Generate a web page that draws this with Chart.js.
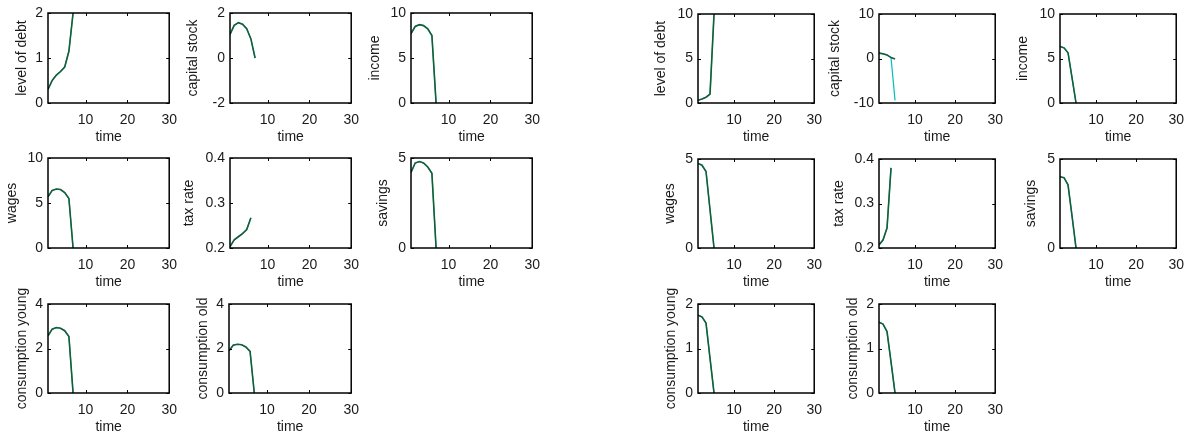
<!DOCTYPE html>
<html>
<head>
<meta charset="utf-8">
<script src="https://cdn.jsdelivr.net/npm/chart.js@4.4.0/dist/chart.umd.min.js"></script>
<style>
  html, body { margin: 0; padding: 0; background: #fff; }
  #fig { position: relative; width: 1185px; height: 435px; overflow: hidden; background: #fff; }
</style>
</head>
<body>
<div id="fig"></div>
<script>
// time axes
const timeLeft = [1, 2, 3, 4, 5, 6, 7];
const timeLeftTax = [1, 2, 3, 4, 5, 6];
const timeRight = [1, 2, 3, 4, 5];
const timeRightTax = [1, 2, 3, 4];
const xTicks = [10, 20, 30];

// left figure
const debtL = [0.30, 0.50, 0.62, 0.70, 0.80, 1.15, 2.00];
const capitalL = [1.05, 1.45, 1.57, 1.50, 1.30, 0.85, 0.00];
const incomeL = [7.7, 8.5, 8.7, 8.6, 8.25, 7.5, 0.0];
const wagesL = [5.7, 6.4, 6.55, 6.5, 6.15, 5.5, 0.0];
const taxL = [0.203, 0.218, 0.225, 0.232, 0.241, 0.267];
const savingsL = [4.2, 4.72, 4.8, 4.72, 4.5, 4.15, 0.0];
const consYoungL = [2.57, 2.87, 2.94, 2.91, 2.80, 2.54, 0.0];
const consOldL = [1.90, 2.15, 2.19, 2.17, 2.07, 1.87, 0.0];

// right figure
const debtR = [0.30, 0.45, 0.65, 1.00, 10.0];
const capitalR = [1.2, 1.05, 0.8, 0.2, -0.1];
const capitalRAlt = [1.2, 1.05, 0.8, 0.2, -9.4];
const incomeR = [6.35, 6.2, 5.65, 2.85, 0.0];
const wagesR = [4.75, 4.65, 4.3, 2.15, 0.0];
const taxR = [0.207, 0.218, 0.245, 0.38];
const savingsR = [4.0, 3.95, 3.55, 1.8, 0.0];
const consYoungR = [1.75, 1.71, 1.57, 0.78, 0.0];
const consOldR = [1.59, 1.55, 1.38, 0.70, 0.0];

// y tick labels
const ticks0to2 = [0, 1, 2];
const ticksM2to2 = [-2, 0, 2];
const ticks0to10 = [0, 5, 10];
const ticksTax = [0.2, 0.3, 0.4];
const ticks0to5 = [0, 5];
const ticks0to4 = [0, 2, 4];
const ticksM10to10 = [-10, 0, 10];

const GREEN = '#175e38';
const CYAN = '#00bfbf';
const TEXT = '#1a1a1a';
const FONT = { family: '"Liberation Sans", Arial, sans-serif', size: 14 };

// box = [left, top, right, bottom] of the axes, gap = ylabel distance from axis
const plots = [
  { label: 'level of debt', t: timeLeft, y: debtL, y2: debtL, yt: ticks0to2, box: [48, 13, 170, 103], gap: 26 },
  { label: 'capital stock', t: timeLeft, y: capitalL, y2: capitalL, yt: ticksM2to2, box: [230, 13, 352, 103], gap: 37 },
  { label: 'income', t: timeLeft, y: incomeL, y2: incomeL, yt: ticks0to10, box: [411, 13, 533, 103], gap: 36 },
  { label: 'wages', t: timeLeft, y: wagesL, y2: wagesL, yt: ticks0to10, box: [48, 158, 170, 248], gap: 36 },
  { label: 'tax rate', t: timeLeftTax, y: taxL, y2: taxL, yt: ticksTax, box: [230, 158, 352, 248], gap: 41 },
  { label: 'savings', t: timeLeft, y: savingsL, y2: savingsL, yt: ticks0to5, box: [411, 158, 533, 248], gap: 28 },
  { label: 'consumption young', t: timeLeft, y: consYoungL, y2: consYoungL, yt: ticks0to4, box: [48, 304, 170, 393], gap: 26 },
  { label: 'consumption old', t: timeLeft, y: consOldL, y2: consOldL, yt: ticks0to4, box: [229, 304, 352, 393], gap: 26 },

  { label: 'level of debt', t: timeRight, y: debtR, y2: debtR, yt: ticks0to10, box: [698, 14, 815, 103], gap: 37 },
  { label: 'capital stock', t: timeRight, y: capitalR, y2: capitalRAlt, yt: ticksM10to10, box: [879, 14, 996, 103], gap: 44 },
  { label: 'income', t: timeRight, y: incomeR, y2: incomeR, yt: ticks0to10, box: [1060, 14, 1177, 103], gap: 37 },
  { label: 'wages', t: timeRight, y: wagesR, y2: wagesR, yt: ticks0to5, box: [698, 159, 815, 248], gap: 28 },
  { label: 'tax rate', t: timeRightTax, y: taxR, y2: taxR, yt: ticksTax, box: [879, 159, 996, 248], gap: 40 },
  { label: 'savings', t: timeRight, y: savingsR, y2: savingsR, yt: ticks0to5, box: [1060, 159, 1177, 248], gap: 29 },
  { label: 'consumption young', t: timeRight, y: consYoungR, y2: consYoungR, yt: ticks0to2, box: [698, 304, 815, 393], gap: 27 },
  { label: 'consumption old', t: timeRight, y: consOldR, y2: consOldR, yt: ticks0to2, box: [879, 304, 996, 393], gap: 26 }
];

// MATLAB-like box with inward tick marks
const boxPlugin = {
  id: 'axesBox',
  afterDatasetsDraw(chart) {
    const { ctx, chartArea: a } = chart;
    const x = chart.scales.x, y = chart.scales.y;
    ctx.save();
    ctx.strokeStyle = '#000';
    ctx.lineWidth = 1;
    ctx.beginPath();
    x.ticks.forEach(t => {
      const px = Math.round(x.getPixelForValue(t.value)) + 0.5;
      ctx.moveTo(px, a.bottom); ctx.lineTo(px, a.bottom - 3);
      ctx.moveTo(px, a.top); ctx.lineTo(px, a.top + 3);
    });
    y.ticks.forEach(t => {
      const py = Math.round(y.getPixelForValue(t.value)) + 0.5;
      ctx.moveTo(a.left, py); ctx.lineTo(a.left + 3, py);
      ctx.moveTo(a.right, py); ctx.lineTo(a.right - 3, py);
    });
    ctx.stroke();
    ctx.lineWidth = 1.5;
    ctx.strokeRect(a.left, a.top, a.right - a.left, a.bottom - a.top);
    ctx.restore();
  }
};

const fig = document.getElementById('fig');
const PAD_L = 2, PAD_T = 26, PAD_R = 16, X_H = 46;

plots.forEach(p => {
  const [bl, bt, br, bb] = p.box;
  const yW = Math.round(p.gap + 8.4);
  const w = PAD_L + yW + (br - bl) + PAD_R;
  const h = PAD_T + (bb - bt) + X_H;
  const cv = document.createElement('canvas');
  cv.width = w;
  cv.height = h;
  cv.style.cssText = `position:absolute;left:${bl - PAD_L - yW}px;top:${bt - PAD_T}px;width:${w}px;height:${h}px`;
  fig.appendChild(cv);

  new Chart(cv, {
    type: 'line',
    data: {
      datasets: [
        { data: p.t.map((t, i) => ({ x: t, y: p.y[i] })), borderColor: GREEN, borderWidth: 1.6, pointRadius: 0, tension: 0 },
        { data: p.t.map((t, i) => ({ x: t, y: p.y2[i] })), borderColor: CYAN, borderWidth: 1.2, pointRadius: 0, tension: 0 }
      ]
    },
    options: {
      responsive: false,
      animation: false,
      devicePixelRatio: 1,
      layout: { padding: { left: PAD_L, top: PAD_T, right: PAD_R, bottom: 0 } },
      plugins: { legend: { display: false }, tooltip: { enabled: false } },
      scales: {
        x: {
          type: 'linear', min: 1, max: 30,
          grid: { display: false, drawTicks: false }, border: { display: false },
          afterBuildTicks: s => { s.ticks = xTicks.map(v => ({ value: v })); },
          afterFit: s => { s.height = X_H; },
          ticks: { padding: 9, font: FONT, color: TEXT, maxRotation: 0, autoSkip: false },
          title: { display: true, text: 'time', font: FONT, color: TEXT, padding: { top: 0, bottom: 3 } }
        },
        y: {
          type: 'linear', min: p.yt[0], max: p.yt[p.yt.length - 1],
          grid: { display: false, drawTicks: false }, border: { display: false },
          afterBuildTicks: s => { s.ticks = p.yt.map(v => ({ value: v })); },
          afterFit: s => { s.width = yW; },
          ticks: { padding: 5, font: FONT, color: TEXT, autoSkip: false, callback: v => String(v) },
          title: { display: true, text: p.label, font: FONT, color: TEXT, padding: { top: 0, bottom: 0 } }
        }
      }
    },
    plugins: [boxPlugin]
  });
});
</script>
</body>
</html>
